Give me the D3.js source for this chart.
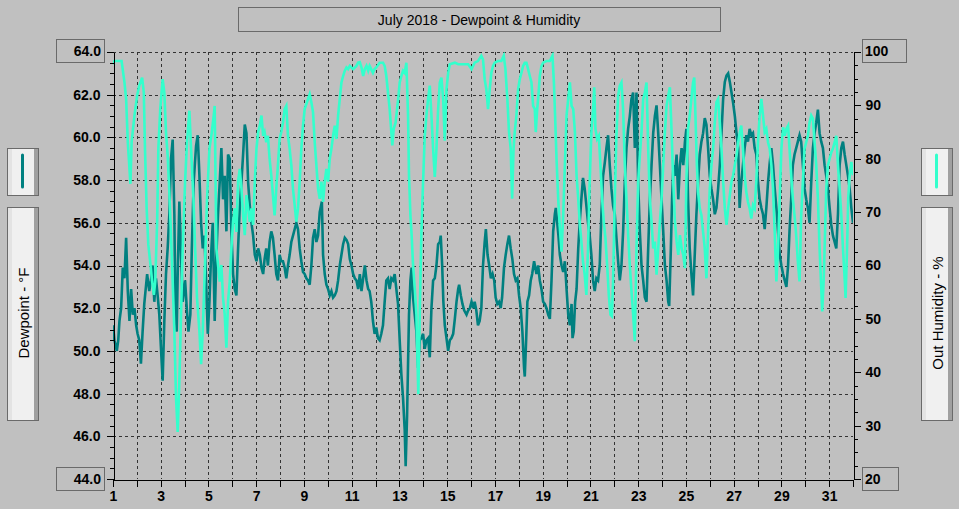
<!DOCTYPE html>
<html>
<head>
<meta charset="utf-8">
<script src="https://cdn.jsdelivr.net/npm/d3@7"></script>
<style>
  body { margin: 0; background: #c0c0c0; }
  svg { display: block; font-family: "Liberation Sans", Arial, sans-serif; }
</style>
</head>
<body>
<div id="chart"></div>
<script>
var chartTitle = "July 2018 - Dewpoint & Humidity";
var dewTitle = "Dewpoint - °F";
var humTitle = "Out Humidity - %";

var dayTicks = d3.range(1, 33);
var dewTicks = [44, 46, 48, 50, 52, 54, 56, 58, 60, 62, 64];
var humTicks = [20, 30, 40, 50, 60, 70, 80, 90, 100];

// [day of month, dewpoint °F]
var dewpoint = [
  [1.00,51.2],[1.06,50.5],[1.16,50.0],[1.22,50.5],[1.27,51.4],[1.34,52.0],[1.41,53.9],[1.48,53.4],
  [1.55,55.3],[1.62,52.8],[1.69,51.4],[1.76,52.9],[1.83,51.7],[1.90,52.0],[1.97,51.2],[2.03,50.8],
  [2.10,50.5],[2.17,49.4],[2.24,50.9],[2.31,52.2],[2.43,53.6],[2.52,52.8],[2.59,53.3],[2.66,54.0],
  [2.73,52.3],[2.80,53.4],[2.87,52.6],[2.94,51.7],[3.01,50.1],[3.08,48.6],[3.15,51.4],[3.22,53.6],
  [3.29,54.8],[3.36,56.4],[3.43,59.0],[3.50,59.9],[3.57,56.4],[3.61,52.2],[3.67,50.9],[3.71,53.6],
  [3.78,57.0],[3.85,54.5],[3.92,52.3],[4.02,53.3],[4.09,52.0],[4.16,50.9],[4.24,51.7],[4.30,54.7],
  [4.38,57.9],[4.48,59.6],[4.55,60.1],[4.62,58.2],[4.69,56.0],[4.76,54.8],[4.83,55.4],[4.90,53.3],
  [4.97,50.8],[5.04,52.3],[5.11,54.5],[5.18,56.0],[5.26,51.4],
  [5.33,54.5],[5.40,56.4],[5.47,57.9],[5.54,59.5],[5.61,57.1],[5.68,58.2],[5.75,55.6],[5.82,59.2],
  [5.89,59.0],[5.96,55.6],[6.03,53.6],[6.10,52.9],[6.17,52.6],[6.24,54.8],[6.31,56.7],[6.38,57.9],
  [6.45,59.2],[6.52,60.6],[6.59,60.2],[6.66,57.9],[6.73,56.8],[6.80,56.0],[6.87,55.4],[6.94,54.5],
  [7.01,54.2],[7.08,54.8],[7.15,54.5],[7.22,53.9],[7.29,53.6],[7.35,54.3],[7.42,54.8],[7.49,54.0],
  [7.56,55.1],[7.63,55.6],[7.70,55.3],[7.77,54.5],[7.84,53.6],[7.91,53.3],[7.98,54.5],[8.05,54.2],
  [8.12,54.2],[8.19,53.9],[8.26,53.4],[8.33,54.0],[8.40,54.5],[8.47,55.1],[8.54,55.4],[8.61,55.7],
  [8.68,56.0],[8.75,55.7],[8.82,54.8],[8.89,54.2],[8.96,53.7],[9.03,53.6],[9.10,53.4],[9.17,53.3],
  [9.24,53.1],[9.31,54.0],[9.38,55.3],[9.45,55.7],[9.52,55.1],[9.59,55.4],[9.66,56.5],[9.75,57.0],
  [9.80,54.5],[9.87,53.6],[9.94,53.1],[10.01,52.9],[10.08,52.6],[10.15,52.8],[10.22,52.5],[10.29,52.6],
  [10.36,52.8],[10.43,53.3],[10.50,54.0],[10.57,54.5],[10.64,55.0],[10.71,55.3],[10.78,55.2],[10.85,55.0],
  [10.92,54.3],[10.99,54.0],[11.06,53.6],[11.13,53.4],[11.20,53.3],[11.27,52.9],[11.34,53.6],[11.41,52.8],
  [11.48,53.4],[11.55,54.0],[11.62,53.3],[11.69,52.9],[11.75,52.8],[11.82,52.3],[11.89,51.4],[11.96,50.8],
  [12.03,51.1],[12.10,50.6],[12.17,50.5],[12.24,50.8],[12.31,51.2],[12.38,52.3],[12.45,53.3],[12.52,53.4],
  [12.59,52.9],[12.66,53.4],[12.73,53.3],[12.80,53.6],[12.87,52.9],[12.94,52.2],[13.01,50.5],[13.08,48.9],
  [13.15,47.8],[13.22,46.3],[13.26,44.6],[13.32,47.0],[13.36,49.4],[13.40,51.7],[13.46,53.3],[13.51,53.9],
  [13.57,52.5],[13.64,51.7],[13.71,50.9],[13.78,49.2],[13.85,50.5],[13.92,50.6],[13.99,50.8],[14.06,50.1],
  [14.13,50.5],[14.20,50.6],
  [14.27,49.7],[14.34,52.0],[14.41,53.3],[14.48,53.4],[14.55,54.0],[14.62,55.0],[14.69,55.1],[14.73,55.4],
  [14.79,54.0],[14.84,52.3],[14.90,51.2],[14.97,50.6],[15.04,50.0],[15.11,50.5],[15.18,50.6],[15.25,50.8],
  [15.32,51.5],[15.39,52.3],[15.46,52.9],[15.50,53.1],[15.57,52.6],[15.64,52.2],[15.71,51.9],[15.81,51.7],
  [15.88,51.9],[15.95,52.0],[16.02,52.3],[16.09,52.0],[16.15,52.3],[16.22,51.9],[16.29,51.2],[16.36,51.4],
  [16.43,52.0],[16.50,54.0],[16.57,55.1],[16.62,55.7],[16.69,54.5],[16.76,54.0],[16.83,53.4],[16.90,53.6],
  [16.97,53.3],[17.03,52.5],[17.10,52.2],[17.17,52.3],[17.24,52.0],[17.30,52.5],[17.38,53.9],[17.45,54.5],
  [17.52,55.0],[17.59,55.4],[17.66,54.8],[17.73,54.3],[17.80,53.6],[17.87,53.3],[17.94,53.4],[18.01,52.6],
  [18.08,52.0],[18.15,50.9],[18.22,49.2],[18.25,48.8],[18.31,50.6],[18.36,52.3],[18.43,52.6],[18.50,53.3],
  [18.56,53.6],[18.64,54.2],
  [18.74,53.6],[18.81,54.0],[18.88,53.3],[18.95,52.9],[19.02,52.3],[19.09,52.2],[19.16,52.0],[19.23,51.7],
  [19.30,51.5],[19.37,53.3],[19.44,55.6],[19.51,56.4],[19.55,56.7],[19.61,56.0],[19.66,55.4],[19.72,54.5],
  [19.79,54.0],[19.86,53.7],[19.93,54.2],[20.00,52.9],[20.07,51.7],[20.14,51.2],[20.21,52.2],[20.25,50.6],
  [20.30,50.9],[20.36,52.3],[20.42,52.9],[20.49,54.8],[20.55,56.0],[20.62,57.1],[20.69,58.1],[20.76,57.6],
  [20.83,56.8],[20.90,56.0],[20.97,55.4],[21.04,54.5],[21.11,53.3],[21.18,52.8],[21.25,53.4],[21.32,53.3],
  [21.39,54.0],[21.46,56.4],[21.53,58.2],[21.60,58.8],[21.67,59.5],[21.74,60.1],[21.81,58.7],[21.88,57.6],
  [21.95,56.8],[22.02,56.4],[22.09,55.3],[22.16,54.2],[22.23,53.3],[22.30,54.0],[22.37,55.6],[22.44,57.9],
  [22.51,59.5],[22.58,60.4],[22.65,61.0],[22.72,61.8],[22.79,62.1],
  [22.86,59.5],[22.93,62.1],[23.00,57.9],[23.07,55.6],[23.14,54.0],[23.21,53.3],[23.28,52.5],[23.35,52.3],
  [23.42,54.8],[23.49,57.1],[23.56,58.7],[23.63,60.2],[23.70,61.0],[23.77,61.5],[23.84,60.2],[23.91,58.7],
  [23.98,57.1],[24.05,55.6],[24.12,54.0],[24.19,53.3],[24.26,52.3],[24.30,52.1],[24.37,54.8],[24.42,57.1],
  [24.48,58.7],[24.54,58.2],[24.61,59.2],[24.68,57.1],[24.75,58.7],[24.82,59.5],[24.89,58.7],[24.96,59.8],
  [25.02,60.4],[25.09,57.1],[25.16,54.8],[25.23,53.6],[25.30,52.6],[25.37,54.5],[25.44,56.4],[25.51,57.9],
  [25.58,59.2],[25.65,59.8],[25.72,60.2],[25.79,60.9],[25.86,60.6],[25.93,59.5],[26.00,58.2],[26.07,57.6],
  [26.14,57.1],[26.21,56.4],[26.28,56.7],[26.35,57.6],[26.42,58.7],[26.49,60.2],[26.56,61.8],[26.63,62.6],
  [26.70,62.9],[26.77,63.0],[26.84,62.6],[26.91,62.1],[26.98,61.6],[27.05,61.0],[27.12,60.2],[27.19,59.5],
  [27.25,56.7],[27.32,57.9],[27.39,58.7],[27.46,59.5],[27.53,60.1],[27.60,59.8],[27.67,60.4],[27.74,60.1],
  [27.81,60.2],[27.88,59.5],[27.95,59.2],[28.02,57.9],[28.09,57.1],[28.16,56.7],[28.23,56.4],[28.30,55.7],
  [28.37,56.7],[28.44,57.9],[28.51,58.8],[28.58,59.5],[28.65,58.7],[28.72,57.6],[28.79,56.7],[28.86,55.6],
  [28.93,54.5],[29.00,54.0],[29.07,53.6],[29.14,53.3],[29.21,53.0],[29.28,54.0],[29.34,55.6],[29.41,57.1],
  [29.48,58.7],[29.55,59.2],[29.62,59.5],[29.69,59.8],[29.76,60.1],[29.83,59.8],[29.90,58.7],[29.97,57.6],
  [30.04,57.1],[30.11,56.7],[30.18,56.0],[30.25,57.9],[30.32,59.5],[30.39,60.2],[30.46,60.7],[30.53,61.3],
  [30.60,60.2],[30.67,59.8],[30.74,59.5],[30.81,58.7],[30.88,58.2],[30.95,57.6],[31.02,56.7],[31.09,55.9],
  [31.16,55.4],[31.23,55.1],[31.30,54.8],[31.37,56.4],[31.44,58.7],[31.51,59.5],[31.58,59.8],[31.65,59.2],
  [31.72,58.7],[31.79,58.2],[31.86,57.6],[31.93,56.7],[32.00,56.0]
];

// [day of month, outside humidity %]
var humidity = [
  [1.00,97.7],[1.06,98.3],[1.36,98.3],[1.48,94.3],[1.55,91.2],[1.62,83.1],[1.69,78.1],[1.73,75.3],
  [1.78,83.1],[1.90,88.1],[2.01,91.8],[2.10,93.7],[2.22,95.2],[2.29,92.4],[2.34,81.9],[2.41,70.7],
  [2.48,63.9],[2.57,60.1],[2.64,57.0],[2.71,54.5],[2.77,57.0],[2.85,68.2],[2.90,81.9],[2.98,89.3],
  [3.08,94.9],[3.15,92.4],[3.22,85.0],[3.29,80.6],[3.36,73.8],[3.43,65.7],[3.50,57.0],[3.57,47.7],
  [3.64,35.3],[3.71,28.8],[3.78,38.4],[3.85,50.8],[3.92,63.2],[4.02,75.7],[4.10,83.1],[4.20,89.0],
  [4.27,81.9],[4.37,72.5],[4.44,63.2],[4.52,53.9],[4.62,47.7],[4.69,41.5],[4.76,47.7],[4.83,57.0],
  [4.94,72.5],[5.04,81.9],[5.14,85.0],[5.22,88.1],
  [5.26,89.9],[5.33,63.2],[5.40,60.1],[5.47,57.0],[5.54,60.1],[5.61,53.9],[5.68,50.8],[5.75,44.6],
  [5.82,53.3],[5.89,57.0],[5.96,63.2],[6.03,68.2],[6.10,70.7],[6.17,66.3],[6.24,75.7],[6.31,78.1],
  [6.38,74.4],[6.45,69.4],[6.52,65.7],[6.59,73.2],[6.66,70.7],[6.73,68.2],[6.80,70.7],[6.87,67.6],
  [6.94,75.7],[7.01,81.9],[7.08,85.0],[7.15,86.2],[7.22,88.1],[7.29,84.3],[7.35,85.0],[7.42,83.1],
  [7.49,84.3],[7.56,80.0],[7.63,76.9],[7.70,73.2],[7.77,69.4],[7.84,74.4],[7.91,78.8],[7.98,83.7],
  [8.05,85.0],[8.12,86.8],[8.19,89.3],[8.26,89.9],[8.33,84.3],[8.40,81.9],[8.47,78.8],[8.54,74.4],
  [8.61,71.3],[8.68,68.2],[8.75,70.7],[8.82,75.7],[8.89,81.9],[8.96,86.2],[9.03,89.3],[9.17,91.2],
  [9.24,92.1],[9.31,90.6],[9.38,88.7],[9.45,83.1],[9.52,78.8],[9.59,74.4],[9.66,72.5],
  [9.73,75.7],[9.80,71.9],[9.87,75.7],[9.94,78.1],[10.01,75.7],[10.08,80.0],[10.15,81.9],[10.22,84.3],
  [10.29,86.2],[10.36,83.7],[10.43,88.1],[10.50,91.2],[10.57,94.3],[10.64,95.5],[10.71,96.5],[10.78,97.1],
  [10.85,96.8],[10.92,97.4],[11.06,96.8],[11.20,97.4],[11.27,98.0],[11.34,98.1],[11.41,97.1],[11.48,95.5],
  [11.55,96.8],[11.62,97.4],[11.69,96.5],[11.75,97.4],[11.89,96.1],[11.96,96.8],[12.03,97.1],[12.17,98.0],
  [12.31,98.0],[12.38,97.4],[12.45,95.5],[12.52,92.4],[12.59,89.3],[12.66,85.0],[12.70,82.5],[12.76,85.6],
  [12.84,86.8],[12.90,89.3],[12.96,91.8],[13.01,94.3],[13.08,95.5],[13.15,96.5],[13.22,96.1],[13.29,98.0],
  [13.36,88.1],[13.40,76.9],[13.46,69.4],[13.51,65.7],[13.57,60.1],[13.64,55.8],[13.71,50.8],[13.79,35.9],
  [13.85,50.8],[13.92,66.3],[13.99,75.7],[14.06,84.3],[14.13,88.1],[14.20,91.2],
  [14.27,93.7],[14.34,88.1],[14.41,81.9],[14.48,76.6],[14.55,81.9],[14.62,89.3],[14.69,94.3],[14.76,95.2],
  [14.83,91.2],[14.90,83.4],[14.97,93.0],[15.04,96.1],[15.11,97.7],[15.32,98.0],[15.46,97.7],[15.74,97.7],
  [15.88,97.7],[16.02,96.8],[16.15,98.0],[16.29,98.3],[16.43,99.3],[16.50,98.6],[16.57,94.9],[16.64,93.0],
  [16.71,89.3],[16.78,93.0],[16.85,96.1],[16.92,97.4],[16.99,98.0],[17.13,98.3],[17.27,98.3],[17.37,99.3],
  [17.44,96.8],[17.52,91.2],[17.59,85.0],[17.66,81.9],[17.72,72.5],[17.78,81.9],[17.83,85.0],[17.90,88.1],
  [17.97,93.0],[18.04,94.9],[18.11,96.1],[18.18,97.4],[18.25,98.0],[18.32,98.0],[18.39,96.8],[18.46,95.5],
  [18.53,94.3],[18.60,89.9],[18.67,89.3],[18.71,85.0],[18.77,89.3],[18.82,91.8],[18.88,95.5],[18.95,97.4],
  [19.02,98.0],[19.16,98.3],[19.30,98.3],[19.41,99.3],[19.47,94.3],[19.52,88.1],[19.58,80.0],[19.65,72.5],
  [19.72,67.0],[19.79,62.6],[19.86,69.4],[19.93,78.8],[20.00,88.1],[20.07,91.2],[20.14,94.3],[20.21,89.9],
  [20.28,89.3],[20.35,85.0],[20.42,76.9],[20.49,72.5],[20.55,68.2],[20.62,64.5],[20.69,60.7],[20.76,58.3],
  [20.83,54.5],[20.90,63.2],[20.97,75.7],[21.04,85.0],[21.11,89.3],[21.16,93.4],[21.21,85.6],[21.28,83.7],
  [21.35,84.3],[21.42,78.8],[21.49,72.5],[21.56,68.2],[21.63,65.1],[21.70,60.1],[21.77,54.5],[21.84,50.8],
  [21.90,50.5],[21.95,57.0],[22.02,72.5],[22.09,84.3],[22.16,91.8],[22.23,93.7],[22.30,94.3],[22.37,89.3],
  [22.44,78.8],[22.51,72.5],[22.58,65.7],[22.65,60.1],[22.72,55.2],[22.79,50.8],[22.86,45.8],
  [22.93,63.2],[23.00,75.7],[23.07,80.6],[23.14,85.0],[23.21,91.2],[23.28,92.4],[23.35,94.3],[23.42,81.9],
  [23.49,72.5],[23.56,68.2],[23.63,63.2],[23.70,64.5],[23.77,58.3],[23.84,63.2],[23.91,68.2],[23.98,72.5],
  [24.05,78.8],[24.12,85.0],[24.19,89.9],[24.26,91.8],[24.33,93.4],[24.40,85.0],[24.47,75.7],[24.54,68.2],
  [24.61,64.5],[24.68,62.0],[24.75,65.7],[24.82,63.2],[24.89,62.0],[24.96,59.5],[25.02,75.7],[25.09,85.6],
  [25.16,88.1],[25.23,91.2],[25.30,94.3],[25.35,95.2],[25.40,88.1],[25.46,78.8],[25.51,73.8],[25.58,70.7],
  [25.65,69.4],[25.72,66.3],[25.79,63.2],[25.86,57.6],[25.93,66.3],[26.00,74.4],[26.07,78.8],[26.14,81.9],
  [26.21,86.8],[26.28,90.6],[26.35,91.2],[26.42,86.8],[26.49,81.9],[26.56,75.7],[26.63,70.7],[26.70,67.6],
  [26.77,70.7],[26.84,73.2],[26.91,75.7],[26.98,76.9],[27.05,78.8],[27.12,80.6],[27.19,83.1],[27.26,85.0],
  [27.32,86.2],[27.39,81.9],[27.46,76.9],[27.53,73.8],[27.60,71.9],[27.67,70.7],[27.74,68.8],[27.81,71.3],
  [27.88,70.7],[27.95,75.7],[28.02,83.1],[28.09,88.1],[28.16,91.2],[28.23,88.1],[28.30,85.0],[28.37,85.6],
  [28.44,83.1],[28.51,81.9],[28.58,78.8],[28.65,74.4],[28.72,66.3],[28.79,57.0],[28.86,63.2],[28.93,72.5],
  [29.00,81.9],[29.07,85.9],[29.14,84.3],[29.21,85.6],[29.28,86.2],[29.34,81.9],[29.41,76.9],[29.48,72.5],
  [29.55,69.4],[29.62,65.7],[29.69,60.7],[29.76,57.0],[29.83,69.4],[29.90,75.7],[29.97,81.9],[30.04,83.1],
  [30.11,84.3],[30.18,86.8],[30.25,88.1],[30.32,87.5],[30.39,83.1],[30.46,78.8],[30.53,72.5],[30.60,63.2],
  [30.67,55.8],[30.71,51.4],[30.77,57.0],[30.83,66.3],[30.88,74.4],[30.95,78.8],[31.02,80.0],[31.09,81.2],
  [31.16,81.9],[31.23,83.1],[31.30,84.3],[31.37,78.8],[31.44,74.4],[31.51,69.4],[31.58,63.2],[31.65,57.6],
  [31.69,53.9],[31.75,63.2],[31.80,72.5],[31.86,76.9],[31.93,79.4],[32.00,76.9]
];

var dewColor = "#008080";
var humColor = "#33ffcc";

var width = 959, height = 509;
var plot = { left: 113, right: 853, top: 52, bottom: 479 };

var svg = d3.select("#chart")
  .append("svg")
  .attr("width", width)
  .attr("height", height);

var x = d3.scaleLinear().domain([1, 32]).range([plot.left, plot.right]);
var yDew = d3.scaleLinear().domain([44, 64]).range([plot.bottom, plot.top]);
var yHum = d3.scaleLinear().domain([20, 100]).range([plot.bottom, plot.top]);

function px(v) { return Math.round(v) + 0.5; }

// title
svg.append("rect")
  .attr("x", 238.5).attr("y", 7.5)
  .attr("width", 482).attr("height", 24)
  .attr("fill", "none").attr("stroke", "#6a6a6a");
svg.append("text")
  .attr("x", 479).attr("y", 20)
  .attr("text-anchor", "middle")
  .attr("dominant-baseline", "central")
  .style("font-size", "14px")
  .text(chartTitle);

// grid
var grid = svg.append("g")
  .attr("stroke", "#333")
  .attr("stroke-dasharray", "3,3")
  .attr("shape-rendering", "crispEdges");

grid.selectAll(".vgrid")
  .data(dayTicks.filter(function (d) { return d > 1 && d < 32; }))
  .enter().append("line")
  .attr("x1", function (d) { return px(x(d)); })
  .attr("x2", function (d) { return px(x(d)); })
  .attr("y1", plot.top).attr("y2", plot.bottom);

grid.selectAll(".hgrid")
  .data(dewTicks.filter(function (d) { return d > 44; }))
  .enter().append("line")
  .attr("y1", function (d) { return px(yDew(d)); })
  .attr("y2", function (d) { return px(yDew(d)); })
  .attr("x1", plot.left).attr("x2", plot.right);

// series
svg.append("clipPath").attr("id", "plotclip")
  .append("rect")
  .attr("x", plot.left).attr("y", plot.top)
  .attr("width", plot.right - plot.left)
  .attr("height", plot.bottom - plot.top);

var dewLine = d3.line()
  .x(function (d) { return x(d[0]); })
  .y(function (d) { return yDew(d[1]); });

var humLine = d3.line()
  .x(function (d) { return x(d[0]); })
  .y(function (d) { return yHum(d[1]); });

var series = svg.append("g").attr("clip-path", "url(#plotclip)");

series.append("path")
  .datum(dewpoint)
  .attr("d", dewLine)
  .attr("fill", "none")
  .attr("stroke", dewColor)
  .attr("stroke-width", 2.6);

series.append("path")
  .datum(humidity)
  .attr("d", humLine)
  .attr("fill", "none")
  .attr("stroke", humColor)
  .attr("stroke-width", 2.6);

// axes
function styleAxis(g) {
  g.attr("shape-rendering", "crispEdges");
  g.selectAll("line").attr("stroke", "#000");
  g.selectAll("path").attr("stroke", "#000");
  g.selectAll("text")
    .attr("fill", "#000")
    .style("font-size", "14px")
    .style("font-weight", "bold")
    .style("font-family", "\"Liberation Sans\", Arial, sans-serif");
}

svg.append("g")
  .attr("transform", "translate(" + (plot.left + 0.5) + ",0)")
  .call(d3.axisLeft(yDew).tickValues(d3.range(44, 64.01, 0.5)).tickSize(4).tickFormat(""))
  .call(function (g) { g.select(".domain").remove(); })
  .call(styleAxis);

svg.append("g")
  .attr("transform", "translate(" + (plot.left + 0.5) + ",0)")
  .call(d3.axisLeft(yDew).tickValues(dewTicks).tickSize(7).tickSizeOuter(0).tickPadding(6)
    .tickFormat(function (d) { return d > 44 && d < 64 ? d3.format(".1f")(d) : ""; }))
  .call(styleAxis);

svg.append("g")
  .attr("transform", "translate(" + (plot.right + 0.5) + ",0)")
  .call(d3.axisRight(yHum).tickValues(d3.range(20, 100.01, 2.5)).tickSize(4).tickFormat(""))
  .call(function (g) { g.select(".domain").remove(); })
  .call(styleAxis);

svg.append("g")
  .attr("transform", "translate(" + (plot.right + 0.5) + ",0)")
  .call(d3.axisRight(yHum).tickValues(humTicks).tickSize(7).tickSizeOuter(0).tickPadding(5)
    .tickFormat(function (d) { return d > 20 && d < 100 ? d : ""; }))
  .call(styleAxis);

svg.append("g")
  .attr("transform", "translate(0," + (plot.bottom + 0.5) + ")")
  .call(d3.axisBottom(x).tickValues(dayTicks).tickSize(7).tickSizeOuter(0).tickPadding(5)
    .tickFormat(function (d) { return d % 2 === 1 ? d : ""; }))
  .call(styleAxis);

// boxed end labels
function endLabel(bx, by, bw, text, anchor) {
  svg.append("rect")
    .attr("x", bx + 0.5).attr("y", by + 0.5)
    .attr("width", bw).attr("height", 23)
    .attr("fill", "none").attr("stroke", "#6a6a6a");
  svg.append("text")
    .attr("x", anchor === "end" ? bx + bw - 3 : bx + 3)
    .attr("y", by + 12)
    .attr("text-anchor", anchor)
    .attr("dominant-baseline", "central")
    .style("font-size", "14px")
    .style("font-weight", "bold")
    .text(text);
}

endLabel(56, 39, 48, d3.format(".1f")(dewTicks[dewTicks.length - 1]), "end");
endLabel(56, 467, 48, d3.format(".1f")(dewTicks[0]), "end");
endLabel(862, 39, 44, humTicks[humTicks.length - 1], "start");
endLabel(862, 467, 36, humTicks[0], "start");

// legend panels
function panel(bx, by, bw, bh) {
  var g = svg.append("g");
  g.append("rect")
    .attr("x", bx + 0.5).attr("y", by + 0.5)
    .attr("width", bw).attr("height", bh)
    .attr("fill", "#f0f0f0").attr("stroke", "#6a6a6a");
  g.append("rect")
    .attr("x", bx + 1).attr("y", by + 1)
    .attr("width", 4).attr("height", bh - 1)
    .attr("fill", "#e3e3e3");
  g.append("rect")
    .attr("x", bx + bw - 4).attr("y", by + 1)
    .attr("width", 4).attr("height", bh - 1)
    .attr("fill", "#a0a0a0");
  return g;
}

function legendSide(bx, color, label) {
  var top = panel(bx, 148, 31, 47);
  top.append("line")
    .attr("x1", bx + 15.5).attr("x2", bx + 15.5)
    .attr("y1", 155).attr("y2", 187)
    .attr("stroke", color)
    .attr("stroke-width", 3)
    .attr("stroke-linecap", "round");

  var tall = panel(bx, 207, 31, 213);
  tall.append("text")
    .attr("transform", "translate(" + (bx + 16) + ",313) rotate(-90)")
    .attr("text-anchor", "middle")
    .attr("dominant-baseline", "central")
    .style("font-size", "15px")
    .text(label);
}

legendSide(7, dewColor, dewTitle);
legendSide(921, humColor, humTitle);
</script>
</body>
</html>
